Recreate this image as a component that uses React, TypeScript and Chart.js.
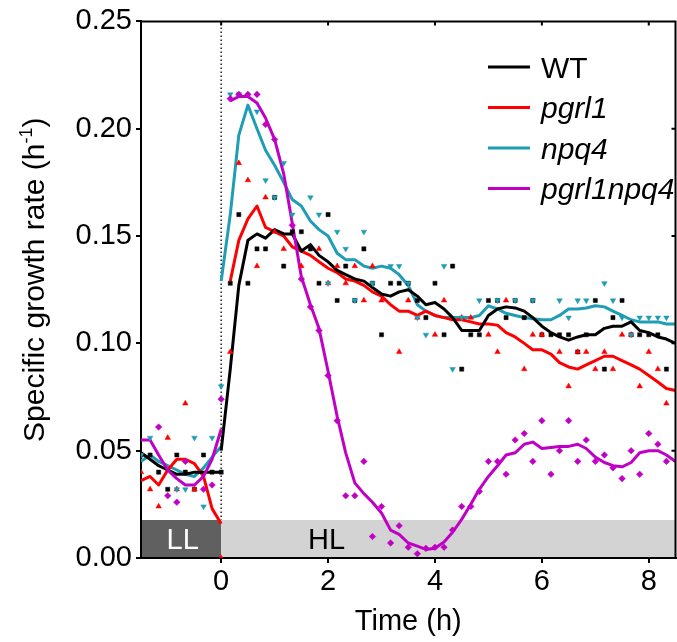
import React, { useEffect, useRef } from 'react';
import { Chart, registerables } from 'chart.js';

Chart.register(...registerables);

const FONT = "'Liberation Sans', Arial, Helvetica, sans-serif";

// time axis (h), one sample every 10 min
const TIME = [
  -1.5, -1.33, -1.17, -1, -0.83, -0.67, -0.5, -0.33, -0.17, 0,
  0.17, 0.33, 0.5, 0.67, 0.83, 1, 1.17, 1.33, 1.5, 1.67,
  1.83, 2, 2.17, 2.33, 2.5, 2.67, 2.83, 3, 3.17, 3.33,
  3.5, 3.67, 3.83, 4, 4.17, 4.33, 4.5, 4.67, 4.83, 5,
  5.17, 5.33, 5.5, 5.67, 5.83, 6, 6.17, 6.33, 6.5, 6.67,
  6.83, 7, 7.17, 7.33, 7.5, 7.67, 7.83, 8, 8.17, 8.33, 8.5,
];
const LL_TIME = TIME.slice(0, 10);
const HL_TIME = TIME.slice(9);

const X_TICKS = [0, 2, 4, 6, 8];
const Y_TICKS = [0, 0.05, 0.1, 0.15, 0.2, 0.25];

// raw measurements (scatter)
const WT_PTS = [
  0.048, 0.048, 0.040, 0.032, 0.048, 0.040, 0.032, 0.048, 0.040, 0.040,
  0.128, 0.160, 0.128, 0.144, 0.144, 0.168, 0.136, 0.152, 0.152, 0.144,
  0.128, 0.160, 0.120, 0.136, 0.120, 0.144, 0.128, 0.104, 0.128, 0.128,
  0.128, 0.120, 0.112, 0.128, 0.104, 0.136, 0.088, 0.104, 0.104, 0.120,
  0.120, 0.112, 0.120, 0.112, 0.120, 0.104, 0.104, 0.104, 0.104, 0.096,
  0.104, 0.120, 0.088, 0.112, 0.120, 0.104, 0.104, 0.104, 0.104, 0.088, null,
];
const PGRL1_PTS = [
  0.040, 0.032, 0.024, 0.056, 0.032, 0.072, 0.032, null, null, 0.000,
  0.096, 0.184, 0.176, 0.136, 0.168, 0.152, 0.144, null, 0.136, null,
  0.144, 0.128, 0.136, 0.128, 0.136, 0.120, 0.136, 0.120, null, 0.096,
  0.120, 0.112, null, 0.104, 0.120, null, 0.112, 0.112, null, 0.104,
  0.096, 0.120, null, 0.088, 0.104, 0.104, null, 0.096, 0.080, 0.096,
  0.096, 0.088, 0.096, 0.088, 0.104, 0.104, 0.080, 0.096, 0.088, 0.072, null,
];
const NPQ4_PTS = [
  0.048, 0.056, null, null, 0.032, 0.032, 0.056, 0.024, 0.056, 0.080,
  0.216, 0.216, null, 0.208, 0.176, 0.168, 0.184, 0.160, null, 0.168,
  0.160, 0.128, 0.152, 0.144, 0.120, 0.152, 0.128, null, 0.136, 0.136,
  0.128, 0.112, 0.104, null, 0.136, 0.088, 0.112, null, 0.120, null,
  0.120, null, 0.120, null, 0.120, null, null, 0.120, 0.112, 0.120,
  0.120, null, 0.128, 0.120, 0.112, 0.104, 0.112, 0.112, 0.112, 0.112, null,
];
const PN_PTS = [
  null, null, 0.061, 0.029, 0.026, 0.045, null, 0.032, 0.034, 0.074,
  0.214, 0.216, 0.216, 0.216, 0.202, 0.195, null, 0.155, 0.130, 0.117,
  0.106, 0.085, 0.064, 0.029, 0.029, 0.045, 0.010, 0.024, 0.007, 0.015,
  0.005, 0.002, 0.0045, 0.005, 0.005, 0.013, 0.024, 0.024, 0.031, 0.045,
  0.045, 0.039, 0.055, 0.058, 0.045, 0.064, 0.039, 0.050, 0.064, 0.045,
  0.055, 0.045, 0.048, 0.042, 0.037, 0.050, 0.039, 0.058, 0.053, 0.045, null,
];

// smoothed curves: low light (-1.5..0) and high light (0..8.5)
const WT_LL = [0.049, 0.046, 0.043, 0.041, 0.039, 0.039, 0.040, 0.040, 0.040, 0.040];
const WT_HL = [
  0.050,
  0.088, 0.127, 0.148, 0.151, 0.149, 0.153, 0.151, 0.151, 0.143, 0.146,
  0.141, 0.138, 0.134, 0.132, 0.130, 0.129, 0.126, 0.123, 0.122, 0.124,
  0.125, 0.122, 0.118, 0.119, 0.116, 0.112, 0.106, 0.106, 0.106, 0.113,
  0.116, 0.117, 0.1165, 0.115, 0.112, 0.108, 0.105, 0.103, 0.1015, 0.103,
  0.104, 0.104, 0.107, 0.108, 0.108, 0.110, 0.106, 0.105, 0.103, 0.102, 0.100,
];
const PGRL1_LL = [0.036, 0.038, 0.034, 0.041, 0.046, 0.046, 0.044, 0.038, 0.023, 0.016];
const PGRL1_HL = [
  null,
  0.129, 0.148, 0.158, 0.164, 0.154, 0.152, 0.150, 0.145, 0.143, 0.141,
  0.138, 0.135, 0.133, 0.130, 0.129, 0.127, 0.124, 0.122, 0.118, 0.115,
  0.115, 0.113, 0.115, 0.113, 0.112, 0.111, 0.111, 0.110, 0.109, 0.109,
  0.1085, 0.105, 0.103, 0.100, 0.097, 0.097, 0.095, 0.091, 0.089, 0.088,
  0.090, 0.092, 0.094, 0.094, 0.092, 0.090, 0.088, 0.085, 0.082, 0.079, 0.078,
];
const NPQ4_LL = [0.045, 0.048, 0.045, 0.043, 0.041, 0.039, 0.038, 0.042, 0.047, 0.052];
const NPQ4_HL = [
  0.129,
  0.160, 0.197, 0.211, 0.200, 0.190, 0.183, 0.175, 0.167, 0.164, 0.157,
  0.153, 0.150, 0.142, 0.139, 0.139, 0.136, 0.135, 0.136, 0.135, 0.132,
  0.127, 0.118, 0.115, 0.113, 0.112, 0.112, 0.112, 0.112, 0.113, 0.1175,
  0.116, 0.114, 0.113, 0.112, 0.1115, 0.111, 0.111, 0.113, 0.116, 0.116,
  0.1165, 0.1175, 0.117, 0.115, 0.113, 0.111, 0.110, 0.110, 0.110, 0.109, 0.109,
];
const PN_LL = [0.055, 0.055, 0.048, 0.041, 0.037, 0.034, 0.034, 0.038, 0.046, 0.060];
const PN_HL = [
  null,
  0.213, 0.215, 0.215, 0.212, 0.205, 0.195, 0.179, 0.156, 0.131, 0.118,
  0.107, 0.087, 0.066, 0.049, 0.035, 0.030, 0.026, 0.021, 0.013, 0.011,
  0.007, 0.0055, 0.004, 0.0045, 0.0075, 0.012, 0.018, 0.025, 0.032, 0.038,
  0.043, 0.048, 0.049, 0.053, 0.054, 0.051, 0.0515, 0.052, 0.052, 0.053,
  0.051, 0.047, 0.0445, 0.043, 0.0425, 0.0445, 0.049, 0.050, 0.050, 0.048, 0.045,
];

const BAR_TOP = 0.0177;
const LL_LABEL_X = -0.72;
const HL_LABEL_X = 1.97;

const C_WT = '#000000';
const C_PGRL1 = '#ff0000';
const C_NPQ4 = '#1e9db4';
const C_PN = '#c000c4';

const LEGEND = [
  { label: 'WT', color: C_WT, italic: false },
  { label: 'pgrl1', color: C_PGRL1, italic: true },
  { label: 'npq4', color: C_NPQ4, italic: true },
  { label: 'pgrl1npq4', color: C_PN, italic: true },
];

const toXY = (times: number[], vals: (number | null)[]) =>
  times.map((t, i) => ({ x: t, y: vals[i] }));

const scatter = (vals: (number | null)[], color: string, style: string, radius: number, rotation = 0) => ({
  data: toXY(TIME, vals),
  showLine: false,
  pointStyle: style,
  pointRadius: radius,
  pointRotation: rotation,
  pointBackgroundColor: color,
  pointBorderColor: color,
  pointBorderWidth: 0.5,
  borderColor: color,
  backgroundColor: color,
});

const curve = (times: number[], vals: (number | null)[], color: string) => ({
  data: toXY(times, vals),
  borderColor: color,
  backgroundColor: color,
  borderWidth: 3,
  pointRadius: 0,
  tension: 0,
  fill: false,
  borderJoinStyle: 'round',
});

const decor = {
  id: 'decor',
  beforeDraw(chart: any) {
    const { ctx, chartArea: a, scales } = chart;
    const x = scales.x;
    const y = scales.y;
    const yb = y.getPixelForValue(0);
    const yt = y.getPixelForValue(BAR_TOP);
    const x0 = x.getPixelForValue(0);
    ctx.save();
    ctx.fillStyle = '#ffffff';
    ctx.fillRect(0, 0, chart.width, chart.height);
    // dotted light-switch line
    ctx.strokeStyle = '#222';
    ctx.lineWidth = 1.5;
    ctx.setLineDash([1.5, 2.5]);
    ctx.beginPath();
    ctx.moveTo(x0, a.top + 2);
    ctx.lineTo(x0, yt);
    ctx.stroke();
    ctx.setLineDash([]);
    // LL / HL bar
    ctx.fillStyle = '#606060';
    ctx.fillRect(a.left, yt, x0 - a.left, yb - yt);
    ctx.fillStyle = '#d3d3d3';
    ctx.fillRect(x0, yt, a.right - x0, yb - yt);
    ctx.font = `29px ${FONT}`;
    ctx.textAlign = 'center';
    ctx.textBaseline = 'alphabetic';
    ctx.fillStyle = '#ffffff';
    ctx.fillText('LL', x.getPixelForValue(LL_LABEL_X), yb - 9);
    ctx.fillStyle = '#000000';
    ctx.fillText('HL', x.getPixelForValue(HL_LABEL_X), yb - 9);
    ctx.restore();
  },
  afterDraw(chart: any) {
    const { ctx, chartArea: a, scales } = chart;
    const x = scales.x;
    const y = scales.y;
    ctx.save();
    // top border with inward ticks
    ctx.strokeStyle = '#000';
    ctx.lineWidth = 2;
    ctx.beginPath();
    ctx.moveTo(a.left - 1, a.top);
    ctx.lineTo(a.right + 1, a.top);
    ctx.moveTo(a.right, a.top);
    ctx.lineTo(a.right, a.bottom);
    for (const v of X_TICKS) {
      const px = x.getPixelForValue(v);
      ctx.moveTo(px, a.top);
      ctx.lineTo(px, a.top + 4);
    }
    for (const v of Y_TICKS) {
      const py = y.getPixelForValue(v);
      ctx.moveTo(a.right, py);
      ctx.lineTo(a.right - 4, py);
    }
    ctx.stroke();

    // x title
    ctx.fillStyle = '#000';
    ctx.font = `29px ${FONT}`;
    ctx.textAlign = 'center';
    ctx.textBaseline = 'alphabetic';
    ctx.fillText('Time (h)', (a.left + a.right) / 2, 630);

    // y title with superscript
    ctx.save();
    ctx.translate(44, (a.top + a.bottom) / 2 - 10);
    ctx.rotate(-Math.PI / 2);
    const main = 'Specific growth rate (h';
    const sup = '-1';
    const close = ')';
    ctx.font = `30px ${FONT}`;
    const w1 = ctx.measureText(main).width;
    const w3 = ctx.measureText(close).width;
    ctx.font = `18px ${FONT}`;
    const w2 = ctx.measureText(sup).width;
    let sx = -(w1 + w2 + w3) / 2;
    ctx.textAlign = 'left';
    ctx.font = `30px ${FONT}`;
    ctx.fillText(main, sx, 0);
    sx += w1;
    ctx.font = `18px ${FONT}`;
    ctx.fillText(sup, sx, -12);
    sx += w2;
    ctx.font = `30px ${FONT}`;
    ctx.fillText(close, sx, 0);
    ctx.restore();

    // legend
    LEGEND.forEach((item, i) => {
      const ly = 67 + i * 40.5;
      ctx.strokeStyle = item.color;
      ctx.lineWidth = 3;
      ctx.beginPath();
      ctx.moveTo(488, ly);
      ctx.lineTo(530, ly);
      ctx.stroke();
      ctx.fillStyle = '#000';
      ctx.font = `${item.italic ? 'italic ' : ''}30px ${FONT}`;
      ctx.textAlign = 'left';
      ctx.fillText(item.label, 541, ly + 10.7);
    });
    ctx.restore();
  },
};

export default function App() {
  const ref = useRef<HTMLCanvasElement | null>(null);

  useEffect(() => {
    const canvas = ref.current;
    if (!canvas) return;
    const datasets: any[] = [
      scatter(PN_PTS, C_PN, 'rectRot', 3.3),
      scatter(NPQ4_PTS, C_NPQ4, 'triangle', 3.2, 180),
      scatter(PGRL1_PTS, C_PGRL1, 'triangle', 3.2),
      scatter(WT_PTS, C_WT, 'rect', 2.9),
      curve(HL_TIME, PN_HL, C_PN),
      curve(LL_TIME, PN_LL, C_PN),
      curve(HL_TIME, WT_HL, C_WT),
      curve(LL_TIME, WT_LL, C_WT),
      curve(HL_TIME, PGRL1_HL, C_PGRL1),
      curve(LL_TIME, PGRL1_LL, C_PGRL1),
      curve(HL_TIME, NPQ4_HL, C_NPQ4),
      curve(LL_TIME, NPQ4_LL, C_NPQ4),
    ];
    const chart = new Chart(canvas, {
      type: 'line',
      data: { datasets },
      options: {
        animation: false,
        responsive: false,
        maintainAspectRatio: false,
        devicePixelRatio: 1,
        layout: { padding: { top: 21, right: 1.3, bottom: 0, left: 0 } },
        plugins: { legend: { display: false }, tooltip: { enabled: false } },
        scales: {
          x: {
            type: 'linear',
            min: -1.5,
            max: 8.5,
            afterBuildTicks: (s: any) => {
              s.ticks = X_TICKS.map((v) => ({ value: v }));
            },
            afterFit: (s: any) => {
              s.height = 84;
            },
            grid: { drawOnChartArea: false, drawTicks: true, tickLength: 5, color: '#000', lineWidth: 2 },
            border: { display: true, color: '#000', width: 2 },
            ticks: {
              color: '#000',
              font: { family: FONT, size: 29 },
              padding: 2,
              maxRotation: 0,
              autoSkip: false,
              callback: (v: any) => String(v),
            },
          },
          y: {
            type: 'linear',
            min: 0,
            max: 0.25,
            afterBuildTicks: (s: any) => {
              s.ticks = Y_TICKS.map((v) => ({ value: v }));
            },
            afterFit: (s: any) => {
              s.width = 141;
            },
            grid: { drawOnChartArea: false, drawTicks: true, tickLength: 5, color: '#000', lineWidth: 2 },
            border: { display: true, color: '#000', width: 2 },
            ticks: {
              color: '#000',
              font: { family: FONT, size: 29 },
              padding: 4,
              autoSkip: false,
              callback: (v: any) => Number(v).toFixed(2),
            },
          },
        },
      } as any,
      plugins: [decor],
    });
    return () => chart.destroy();
  }, []);

  return (
    <div
      style={{
        position: 'fixed',
        left: 0,
        top: 0,
        width: 677,
        height: 642,
        overflow: 'hidden',
        background: '#fff',
      }}
    >
      <canvas ref={ref} width={680} height={642} style={{ display: 'block', width: 680, height: 642 }} />
    </div>
  );
}
